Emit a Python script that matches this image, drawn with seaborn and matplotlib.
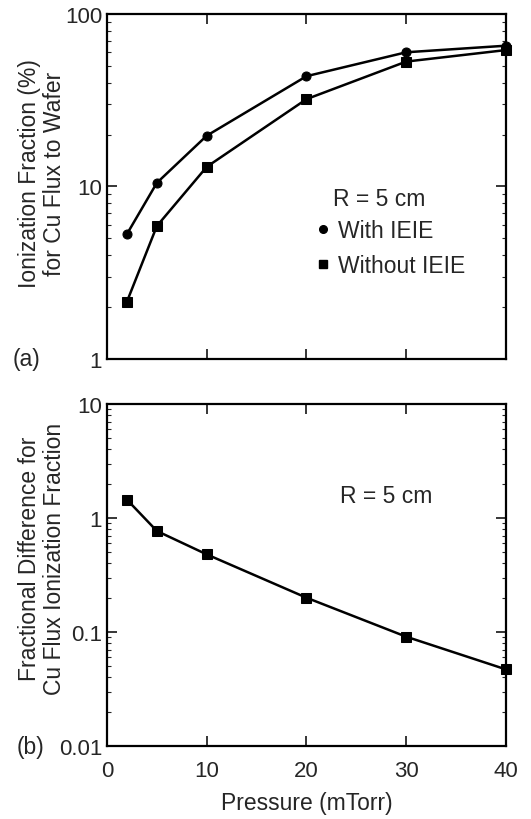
import matplotlib
matplotlib.use('Agg')
import matplotlib.pyplot as plt
import seaborn as sns
import pandas as pd
from matplotlib.lines import Line2D
from matplotlib.ticker import LogLocator, NullFormatter

# --- data ---
pressure = [2, 5, 10, 20, 30, 40]
with_ieie = [5.3, 10.5, 19.7, 43.6, 60.0, 65.5]
without_ieie = [2.15, 5.9, 13.0, 32.1, 53.0, 61.8]
frac_diff = [1.45, 0.77, 0.48, 0.20, 0.091, 0.047]

top_yticks = [1, 10, 100]
top_ylabels = ['1', '10', '100']
bot_yticks = [0.01, 0.1, 1, 10]
bot_ylabels = ['0.01', '0.1', '1', '10']
xticks = [0, 10, 20, 30, 40]

sns.set_style('ticks')
plt.rcParams['font.family'] = ['Liberation Sans', 'DejaVu Sans']
plt.rcParams['font.size'] = 16.5
plt.rcParams['axes.linewidth'] = 1.5

FS = 16.5
TICK_FS = 16

df_top = pd.DataFrame({'p': pressure, 'with': with_ieie, 'without': without_ieie})
df_bot = pd.DataFrame({'p': pressure, 'diff': frac_diff})

fig = plt.figure(figsize=(5.31, 8.2), dpi=100)
ax1 = fig.add_axes([0.2015, 0.561, 0.7514, 0.4207])
ax2 = fig.add_axes([0.2015, 0.089, 0.7514, 0.417])

line_kw = dict(color='black', linewidth=1.8, clip_on=False)
sns.lineplot(data=df_top, x='p', y='with', ax=ax1, marker='o', markersize=6.5,
             markeredgecolor='black', **line_kw)
sns.lineplot(data=df_top, x='p', y='without', ax=ax1, marker='s', markersize=7,
             markeredgecolor='black', **line_kw)
sns.lineplot(data=df_bot, x='p', y='diff', ax=ax2, marker='s', markersize=7,
             markeredgecolor='black', **line_kw)

for ax, ticks, labels in [(ax1, top_yticks, top_ylabels), (ax2, bot_yticks, bot_ylabels)]:
    ax.set_yscale('log')
    ax.set_xlim(0, 40)
    ax.set_ylim(ticks[0], ticks[-1])
    ax.set_yticks(ticks, labels)
    ax.yaxis.set_minor_locator(LogLocator(base=10, subs=range(2, 10)))
    ax.yaxis.set_minor_formatter(NullFormatter())
    ax.set_xticks(xticks)
    ax.tick_params(which='major', direction='in', length=7, width=1.3,
                   top=True, right=True, labelsize=TICK_FS)
    ax.tick_params(axis='x', which='major', pad=10)
    ax.tick_params(which='minor', direction='in', length=3, width=0.8,
                   left=True, right=True, top=False, bottom=False)
    for s in ax.spines.values():
        s.set_linewidth(1.6)
        s.set_color('black')

ax1.tick_params(labelbottom=False)
ax1.set_xlabel('')
ax2.set_xlabel('Pressure (mTorr)', fontsize=FS, labelpad=7)

ax1.set_ylabel('Ionization Fraction (%)\nfor Cu Flux to Wafer', fontsize=FS,
               linespacing=1.1)
ax1.yaxis.set_label_coords(-0.103, 0.54)
ax2.set_ylabel('Fractional Difference for\nCu Flux Ionization Fraction', fontsize=FS,
               linespacing=1.1)
ax2.yaxis.set_label_coords(-0.103, 0.55)

ax1.text(-0.236, 0.0, '(a)', transform=ax1.transAxes, ha='left', va='center', fontsize=FS)
ax2.text(-0.226, 0.0, '(b)', transform=ax2.transAxes, ha='left', va='center', fontsize=FS)

ax1.text(0.566, 0.464, 'R = 5 cm', transform=ax1.transAxes, ha='left', va='center', fontsize=FS)
ax2.text(0.584, 0.734, 'R = 5 cm', transform=ax2.transAxes, ha='left', va='center', fontsize=FS)

handles = [Line2D([], [], color='black', marker='o', linestyle='none', markersize=5.5),
           Line2D([], [], color='black', marker='s', linestyle='none', markersize=6)]
ax1.legend(handles, ['With IEIE', 'Without IEIE'], loc='upper left',
           bbox_to_anchor=(0.525, 0.405), frameon=False, fontsize=FS,
           handlelength=0.6, handletextpad=0.35, labelspacing=0.5,
           borderpad=0, borderaxespad=0)

fig.savefig('out.png', dpi=100)
